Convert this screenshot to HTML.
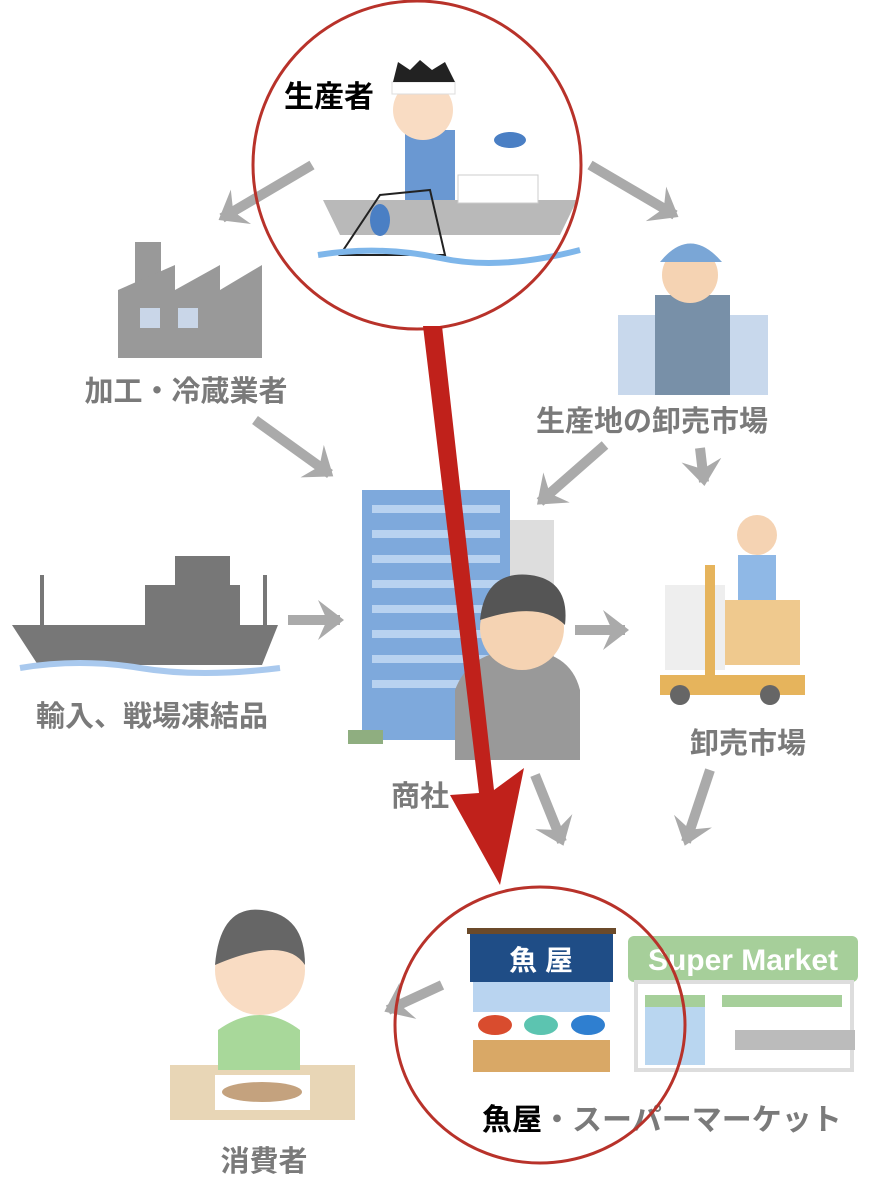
<!DOCTYPE html>
<html><head><meta charset="utf-8"><style>
html,body{margin:0;padding:0;background:#fff}
svg{display:block}
text{font-family:"Liberation Sans","Noto Sans CJK JP",sans-serif}
</style></head><body>
<svg width="882" height="1200" viewBox="0 0 882 1200" xmlns="http://www.w3.org/2000/svg">
<defs>
<marker id="ga" markerWidth="4" markerHeight="4" refX="2.2" refY="2" orient="auto" markerUnits="strokeWidth">
<path d="M0,0 L2.6,2 L0,4 L0.9,2 Z" fill="#aaa"/></marker>
</defs>
<g stroke="#aaa" stroke-width="10" fill="none" marker-end="url(#ga)">
<line x1="312" y1="165" x2="222" y2="218"/>
<line x1="590" y1="165" x2="675" y2="215"/>
<line x1="255" y1="420" x2="330" y2="474"/>
<line x1="605" y1="445" x2="540" y2="502"/>
<line x1="700" y1="448" x2="704" y2="482"/>
<line x1="288" y1="620" x2="340" y2="620"/>
<line x1="575" y1="630" x2="625" y2="630"/>
<line x1="535" y1="775" x2="562" y2="842"/>
<line x1="710" y1="770" x2="686" y2="842"/>
<line x1="442" y1="985" x2="388" y2="1010"/>
</g>
<g fill="#999">
<rect x="135" y="242" width="26" height="60"/>
<path d="M118 358 V290 L175 265 V290 L220 265 V290 L262 265 V358 Z"/>
</g>
<rect x="140" y="308" width="20" height="20" fill="#c9d6e8"/><rect x="178" y="308" width="20" height="20" fill="#c9d6e8"/>
<g font-weight="bold" font-size="29" fill="#7a7a7a" text-anchor="middle">
<text x="186" y="401">加工・冷蔵業者</text>
<text x="652" y="431">生産地の卸売市場</text>
<text x="420" y="806">商社</text>
<text x="152" y="726">輸入、戦場凍結品</text>
<text x="748" y="753">卸売市場</text>
<text x="264" y="1171">消費者</text>
</g>
<rect x="618" y="315" width="150" height="80" fill="#c8d8ec"/>
<rect x="655" y="295" width="75" height="100" fill="#7890a8"/>
<circle cx="690" cy="275" r="28" fill="#f5d3b3"/>
<path d="M660 262 Q690 225 722 262 Z" fill="#7aa6d6"/>
<rect x="510" y="520" width="44" height="220" fill="#ddd"/>
<rect x="362" y="490" width="148" height="250" fill="#7ea9dc"/>
<g fill="#b8d2f0">
<rect x="372" y="505" width="128" height="8"/><rect x="372" y="530" width="128" height="8"/><rect x="372" y="555" width="128" height="8"/><rect x="372" y="580" width="128" height="8"/><rect x="372" y="605" width="128" height="8"/><rect x="372" y="630" width="128" height="8"/><rect x="372" y="655" width="128" height="8"/><rect x="372" y="680" width="128" height="8"/>
</g>
<rect x="348" y="730" width="35" height="14" fill="#8fae80"/>
<path d="M455 760 V690 Q470 650 520 650 Q570 650 580 690 V760 Z" fill="#999"/>
<circle cx="522" cy="628" r="42" fill="#f5d3b3"/>
<path d="M480 620 Q485 570 530 575 Q570 580 565 625 Q540 600 480 620 Z" fill="#555"/>
<path d="M12 625 H278 L262 665 H38 Z" fill="#777"/>
<rect x="145" y="585" width="95" height="40" fill="#777"/>
<rect x="175" y="556" width="55" height="32" fill="#777"/>
<line x1="42" y1="575" x2="42" y2="625" stroke="#777" stroke-width="4"/>
<line x1="265" y1="575" x2="265" y2="625" stroke="#777" stroke-width="4"/>
<path d="M20 668 Q80 658 140 668 T280 668" stroke="#a9c9ee" stroke-width="6" fill="none"/>
<rect x="665" y="585" width="60" height="85" fill="#eee"/>
<rect x="725" y="600" width="75" height="65" fill="#efc98e"/>
<rect x="705" y="565" width="10" height="110" fill="#e6b45c"/>
<rect x="660" y="675" width="145" height="20" fill="#e6b45c"/>
<circle cx="680" cy="695" r="10" fill="#666"/><circle cx="770" cy="695" r="10" fill="#666"/>
<circle cx="757" cy="535" r="20" fill="#f5d3b3"/>
<rect x="738" y="555" width="38" height="45" fill="#8fb8e6"/>
<rect x="170" y="1065" width="185" height="55" fill="#e8d6b6"/>
<rect x="215" y="1075" width="95" height="35" fill="#fff"/>
<ellipse cx="262" cy="1092" rx="40" ry="10" fill="#c4a27e"/>
<path d="M218 1070 V1030 Q260 1000 300 1030 V1070 Z" fill="#a8d89a"/>
<circle cx="260" cy="970" r="45" fill="#f9dcc3"/>
<path d="M215 965 Q220 905 262 910 Q305 915 305 965 Q285 935 215 965 Z" fill="#666"/>
<rect x="628" y="936" width="230" height="46" rx="6" fill="#a6cf9a"/>
<text x="743" y="970" font-size="30" fill="#fff" text-anchor="middle" font-weight="bold">Super Market</text>
<rect x="636" y="982" width="216" height="88" fill="none" stroke="#ddd" stroke-width="4"/>
<rect x="645" y="995" width="60" height="70" fill="#b9d6f0"/>
<rect x="645" y="995" width="60" height="12" fill="#a6cf9a"/>
<rect x="722" y="995" width="120" height="12" fill="#a6cf9a"/>
<rect x="735" y="1030" width="120" height="20" fill="#bbb"/>
<rect x="467" y="928" width="149" height="6" fill="#6b4a2a"/>
<rect x="470" y="934" width="143" height="48" fill="#1f4d86"/>
<text x="541" y="970" font-size="28" fill="#fff" text-anchor="middle" font-weight="bold">魚 屋</text>
<rect x="473" y="982" width="137" height="35" fill="#b9d4f0"/>
<rect x="473" y="1012" width="137" height="28" fill="#fff"/>
<ellipse cx="495" cy="1025" rx="17" ry="10" fill="#d94c2e"/>
<ellipse cx="541" cy="1025" rx="17" ry="10" fill="#5cc4b0"/>
<ellipse cx="588" cy="1025" rx="17" ry="10" fill="#2f7fd0"/>
<rect x="473" y="1040" width="137" height="32" fill="#d9a866"/>
<text x="482" y="1130" font-size="30" fill="#000" font-weight="bold">魚屋</text>
<text x="542" y="1130" font-size="30" fill="#7a7a7a" font-weight="bold">・スーパーマーケット</text>
<path d="M323 200 H577 L560 235 H340 Z" fill="#b9b9b9"/>
<rect x="458" y="175" width="80" height="28" fill="#fff" stroke="#ccc"/>
<rect x="405" y="130" width="50" height="70" fill="#6a98d2"/>
<circle cx="423" cy="110" r="30" fill="#f9dcc3"/>
<rect x="392" y="82" width="63" height="12" fill="#fff" stroke="#ddd"/>
<path d="M393 82 L398 62 L410 70 L420 60 L432 70 L445 62 L455 82 Z" fill="#222"/>
<path d="M340 255 L380 195 L430 190 L445 255 Z" fill="none" stroke="#222" stroke-width="2"/>
<ellipse cx="380" cy="220" rx="10" ry="16" fill="#4a7fc4"/>
<ellipse cx="510" cy="140" rx="16" ry="8" fill="#4a7fc4"/>
<path d="M318 255 Q380 245 440 258 T580 250" stroke="#7eb6ea" stroke-width="6" fill="none"/>
<text x="284" y="107" font-size="30" fill="#000" font-weight="bold">生産者</text>
<circle cx="417" cy="165" r="164" fill="none" stroke="#b8322a" stroke-width="3"/>
<ellipse cx="540" cy="1025" rx="145" ry="138" fill="none" stroke="#b8322a" stroke-width="3"/>
<polygon points="423,326 442,326 494,790 524,768 500,885 450,795 479,793" fill="#c0211b"/>
</svg>
</body></html>
